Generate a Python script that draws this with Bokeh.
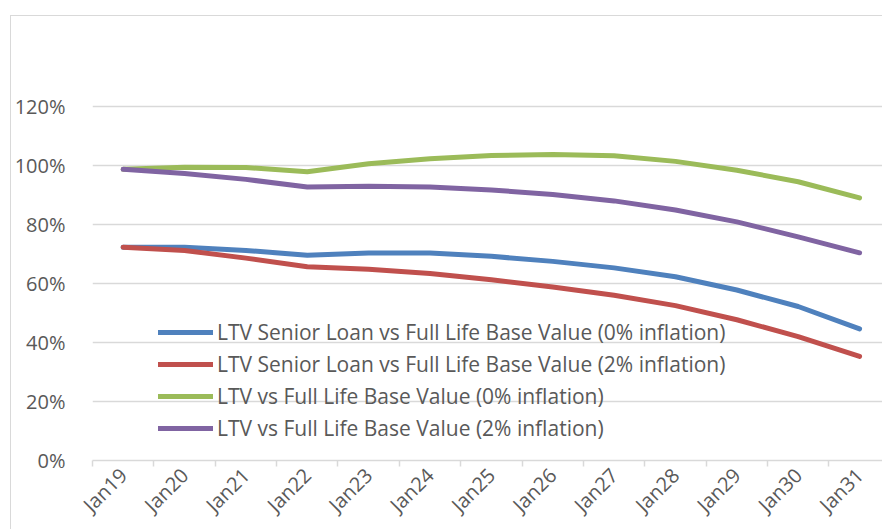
import math
from bokeh.plotting import figure
from bokeh.models import FixedTicker, PrintfTickFormatter, Legend, LegendItem, Range1d
from bokeh.embed import file_html
from bokeh.resources import INLINE

months = ["Jan19", "Jan20", "Jan21", "Jan22", "Jan23", "Jan24", "Jan25",
          "Jan26", "Jan27", "Jan28", "Jan29", "Jan30", "Jan31"]

senior_0 = [72.3, 72.3, 71.2, 69.6, 70.3, 70.3, 69.2, 67.5, 65.3, 62.3, 57.8, 52.2, 44.6]
senior_2 = [72.3, 71.2, 68.6, 65.7, 64.8, 63.4, 61.3, 58.8, 56.0, 52.5, 47.7, 42.0, 35.3]
ltv_0 = [98.7, 99.4, 99.3, 97.9, 100.6, 102.3, 103.4, 103.7, 103.3, 101.4, 98.4, 94.5, 89.0]
ltv_2 = [98.7, 97.3, 95.3, 92.7, 93.0, 92.7, 91.7, 90.2, 88.0, 84.9, 80.9, 75.8, 70.4]

series_names = [
    "LTV Senior Loan vs Full Life Base Value (0% inflation)",
    "LTV Senior Loan vs Full Life Base Value (2% inflation)",
    "LTV vs Full Life Base Value (0% inflation)",
    "LTV vs Full Life Base Value (2% inflation)",
]
series_values = [senior_0, senior_2, ltv_0, ltv_2]
series_colors = ["#4F81BD", "#C0504D", "#9BBB59", "#8064A2"]

y_ticks = [0, 20, 40, 60, 80, 100, 120]

FONT = "Open Sans"
TXT = "#595959"
GRID = "#D9D9D9"

x_idx = list(range(len(months)))

p = figure(width=872, height=514, output_backend="svg", toolbar_location=None,
           x_range=Range1d(-0.5, 12.39), y_range=Range1d(0, 140),
           min_border_left=78, min_border_right=0, min_border_top=31, min_border_bottom=69)
p.margin = (15, 0, 0, 10)
p.styles = {"border-top": "1px solid #D9D9D9", "border-left": "1px solid #D9D9D9"}
p.outline_line_color = None
p.background_fill_color = "white"
p.border_fill_color = "white"

# x axis
p.xaxis.ticker = FixedTicker(ticks=x_idx, minor_ticks=[i - 0.5 for i in range(len(months) + 1)])
p.xaxis.major_label_overrides = {i: m for i, m in enumerate(months)}
p.xaxis.major_label_orientation = math.pi / 4
p.xaxis.major_tick_out = 0
p.xaxis.major_tick_in = 0
p.xaxis.minor_tick_out = 6
p.xaxis.minor_tick_in = 0
p.xaxis.minor_tick_line_color = GRID
p.xaxis.minor_tick_line_width = 1.5
p.xaxis.axis_line_color = GRID
p.xaxis.axis_line_width = 1.5
p.xaxis.major_label_text_font = FONT
p.xaxis.major_label_text_font_size = "20px"
p.xaxis.major_label_text_color = TXT
p.xaxis.major_label_standoff = 5
p.xgrid.grid_line_color = None

# y axis
p.yaxis.ticker = FixedTicker(ticks=y_ticks)
p.yaxis.formatter = PrintfTickFormatter(format="%d%%")
p.yaxis.axis_line_color = None
p.yaxis.major_tick_line_color = None
p.yaxis.minor_tick_line_color = None
p.yaxis.major_label_standoff = 21
p.yaxis.major_label_text_font = FONT
p.yaxis.major_label_text_font_size = "20px"
p.yaxis.major_label_text_color = TXT
p.ygrid.grid_line_color = GRID
p.ygrid.grid_line_width = 1.5

items = []
for name, vals, col in zip(series_names, series_values, series_colors):
    r = p.line(x_idx, vals, line_color=col, line_width=5, line_cap="round", line_join="round")
    items.append(LegendItem(label=name, renderers=[r]))

legend = Legend(items=items, location=(66, 16), orientation="vertical",
                glyph_width=55, glyph_height=32, label_height=32, spacing=0,
                padding=0, margin=0, label_standoff=4,
                border_line_color=None, background_fill_alpha=0,
                label_text_font=FONT, label_text_font_size="21px", label_text_color=TXT)
p.add_layout(legend, "center")

open("out.html", "w").write(file_html(p, INLINE))
